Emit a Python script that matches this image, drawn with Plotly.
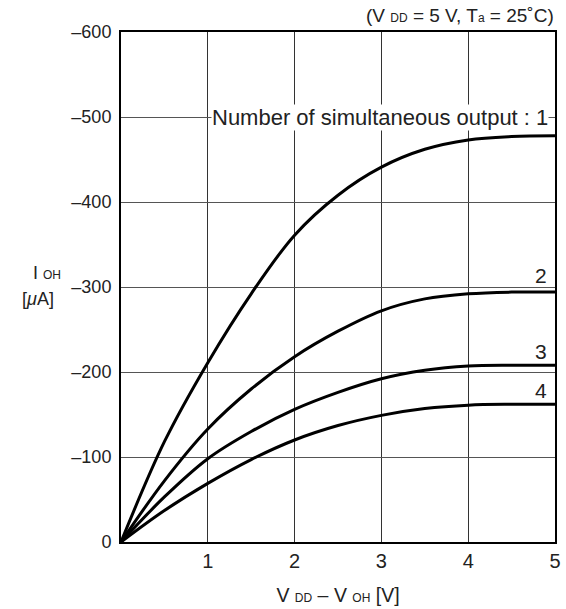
import plotly.graph_objects as go

x_volts = [0, 0.5, 1, 1.5, 2, 2.5, 3, 3.5, 4, 4.5, 5]
i_out1 = [0, -118, -211, -292, -361, -408, -441, -462, -473, -477, -478]
i_out2 = [0, -72, -133, -180, -218, -248, -272, -286, -292, -294, -294]
i_out3 = [0, -53, -98, -130, -156, -176, -192, -202, -207, -208, -208]
i_out4 = [0, -37, -69, -97, -120, -137, -149, -157, -161, -162, -162]
series = [i_out1, i_out2, i_out3, i_out4]
series_labels = ["Number of simultaneous output : 1", "2", "3", "4"]
label_y = [-500, -314, -224, -178]

x_ticks = [1, 2, 3, 4, 5]
y_ticks = [0, -100, -200, -300, -400, -500, -600]
y_ticktext = ["0", "\u2013100", "\u2013200", "\u2013300", "\u2013400", "\u2013500", "\u2013600"]

FONT = "Liberation Sans, Arial, Helvetica, sans-serif"
W, H = 566, 609
L, R, T, B = 121, 11, 32, 67

fig = go.Figure()
for ys in series:
    fig.add_trace(go.Scatter(x=x_volts, y=ys, mode="lines",
                             line=dict(color="black", width=3, shape="spline", smoothing=1.0),
                             showlegend=False, hoverinfo="skip"))

def px_x(px):
    return (px - L) / (W - L - R)

small = "<span style='font-size:12px'>%s</span>"

fig.add_annotation(x=px_x(549), xref="paper", y=label_y[0], yref="y", xanchor="right",
                   text=series_labels[0], showarrow=False, bgcolor="white",
                   font=dict(size=22, color="#222", family=FONT), borderpad=0)
for lab, yv in zip(series_labels[1:], label_y[1:]):
    fig.add_annotation(x=px_x(549), xref="paper", y=yv, yref="y", xanchor="right",
                       text=lab, showarrow=False,
                       font=dict(size=21, color="#222", family=FONT))

fig.update_layout(
    width=W, height=H,
    margin=dict(l=L, r=R, t=T, b=B, autoexpand=False),
    paper_bgcolor="white", plot_bgcolor="white",
    font=dict(family=FONT, size=18, color="#222"),
    xaxis=dict(range=[0, 5], tickvals=x_ticks, showgrid=True, gridcolor="#333", gridwidth=1,
               showline=True, linecolor="black", linewidth=2, mirror=True, ticks="",
               zeroline=False, tickfont=dict(size=20), automargin=False,
               title=dict(text="V " + small % "DD" + " \u2013 V " + small % "OH" + " [V]",
                          font=dict(size=19.5), standoff=17)),
    yaxis=dict(range=[0, -600], tickvals=y_ticks, ticktext=y_ticktext, showgrid=True,
               gridcolor="#555", gridwidth=1, showline=True, linecolor="black", linewidth=2,
               mirror=True, ticks="", zeroline=False, tickfont=dict(size=18),
               ticklabelstandoff=4, automargin=False),
)
fig.add_annotation(x=px_x(556), xref="paper", y=1.0, yref="paper", yshift=17, xanchor="right",
                   yanchor="middle", showarrow=False,
                   text="(V " + small % "DD" + " = 5 V, T" + small % "a" + " = 25\u02daC)",
                   font=dict(size=19, color="#222", family=FONT))
fig.add_annotation(x=px_x(63), xref="paper", y=-300, yref="y", yshift=14, xanchor="right",
                   yanchor="middle", showarrow=False,
                   text="I " + small % "OH",
                   font=dict(size=18, color="#222", family=FONT))
fig.add_annotation(x=px_x(56), xref="paper", y=-300, yref="y", yshift=-12, xanchor="right",
                   yanchor="middle", showarrow=False,
                   text="[<i>\u03bc</i>A]",
                   font=dict(size=18, color="#222", family=FONT))
fig.write_html("out.html", config={"displayModeBar": False, "staticPlot": True},
               post_script="document.body.style.margin='0';document.body.style.overflow='hidden';")
